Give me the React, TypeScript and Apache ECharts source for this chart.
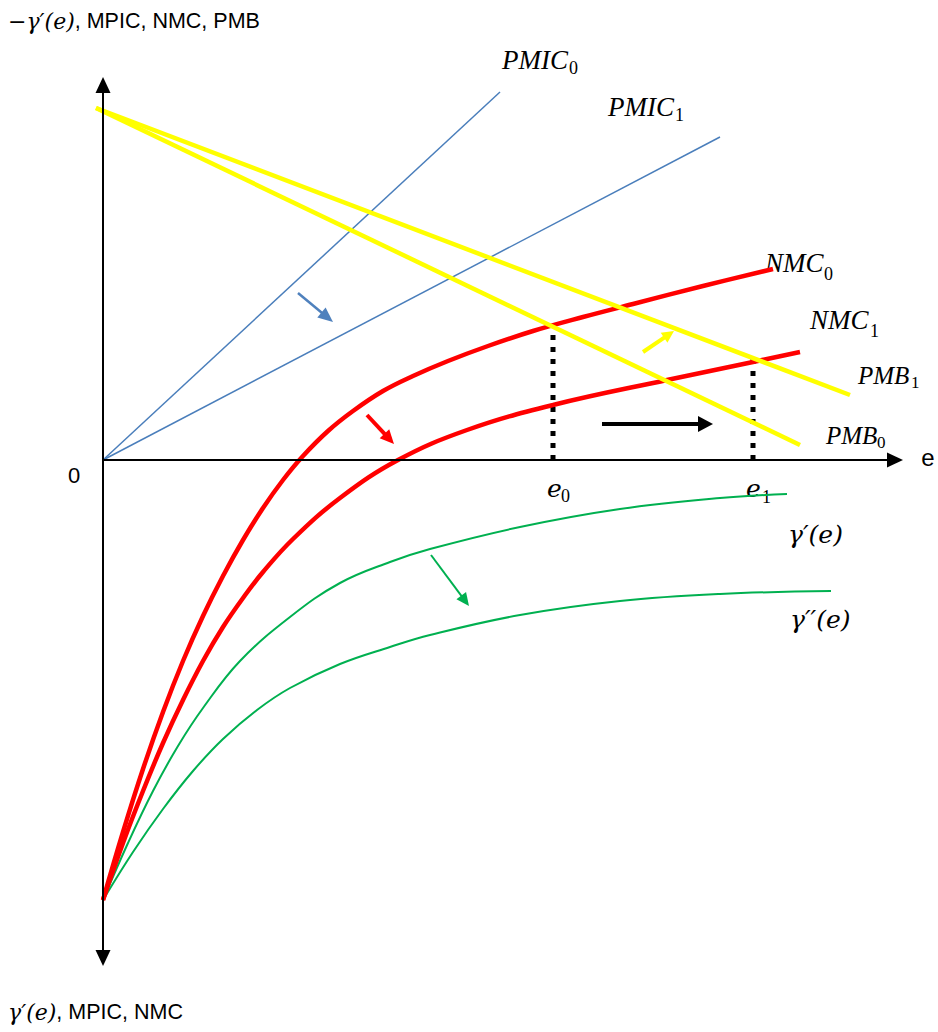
import { useEffect, useRef } from "react";
import * as echarts from "echarts";

// Curves as [e, value] pairs: e is measured to the right of the vertical axis,
// value above the horizontal axis (negative values lie below it).
const pmic0 = [[0, 0], [397, 368]];
const pmic1 = [[0, 0], [617, 323]];
const pmb0 = [[-7, 352], [697, 15]];
const pmb1 = [[-7, 352], [747, 65]];

const nmc0 = [
  [0, -440], [20, -372], [40, -309], [60, -252], [80, -201], [100, -156], [120, -116],
  [140, -80], [160, -48], [180, -20], [200, 4], [225, 29], [250, 49], [280, 69], [310, 84],
  [345, 99], [385, 114], [430, 129], [480, 143], [530, 156], [600, 174], [670, 191],
];
const nmc1 = [
  [0, -440], [20, -383], [40, -331], [60, -283], [80, -240], [100, -201], [120, -167],
  [140, -138], [160, -112], [190, -79], [237, -38], [295, 0], [364, 30], [450, 55],
  [564, 80], [650, 98], [697, 108],
];
const gammaPrime = [
  [0, -440], [25, -383], [50, -331], [75, -286], [100, -248], [137, -201], [187, -157],
  [237, -123], [287, -102], [327, -89], [417, -67], [517, -49], [617, -38], [684, -34],
];
const gammaDoublePrime = [
  [0, -440], [30, -392], [60, -349], [90, -311], [120, -279], [154, -250], [187, -228],
  [237, -204], [287, -187], [327, -175], [417, -155], [517, -141], [617, -134], [728, -131],
];

// Equilibrium effort levels and the heights where the curves cross above them
const equilibria = [
  { e: 450, top: 133 },
  { e: 650, top: 101 },
];

// Shift arrows: [tail, tip]
const shiftArrows = [
  { name: "pmic", from: [195, 167], to: [230, 138] },
  { name: "nmc", from: [264, 45], to: [291, 16] },
  { name: "pmb", from: [540, 108], to: [571, 129] },
  { name: "e", from: [499, 36], to: [610, 36] },
  { name: "gamma", from: [328, -95], to: [366, -146] },
];

const BLUE = "#4a7ebb";
const RED = "#ff0000";
const YELLOW = "#ffff00";
const GREEN = "#00b050";
const BLACK = "#000000";

const CAPS = '"Liberation Serif", "DejaVu Serif", serif';
const LOWER = '"DejaVu Serif", "Liberation Serif", serif';
const SANS = '"Liberation Sans", Arial, sans-serif';

const arrowStyle: Record<string, { color: string; width: number; head: [number, number] }> = {
  pmic: { color: "#4f81bd", width: 2.5, head: [13, 15] },
  nmc: { color: RED, width: 4, head: [13, 14] },
  pmb: { color: YELLOW, width: 4, head: [12, 12] },
  e: { color: BLACK, width: 4, head: [16, 15] },
  gamma: { color: GREEN, width: 2, head: [12, 13] },
};

// The triangle symbol is centred on the line end, so pull the end back by half the head length.
function arrowSegment(from: number[], to: number[], headLen: number) {
  const dx = to[0] - from[0];
  const dy = to[1] - from[1];
  const len = Math.hypot(dx, dy);
  const end = [to[0] - (dx / len) * headLen / 2, to[1] - (dy / len) * headLen / 2];
  return [{ coord: from }, { coord: end }];
}

function curve(name: string, data: number[][], color: string, width: number, smooth: boolean | number = false) {
  return {
    name,
    type: "line",
    data,
    smooth,
    showSymbol: false,
    symbol: "none",
    silent: true,
    lineStyle: { color, width, cap: "butt", join: "round" },
    z: 3,
  };
}

function arrowSeries(name: string, segments: any[], color: string, width: number, head: [number, number], symbol: string[]) {
  return {
    name,
    type: "line",
    data: [],
    silent: true,
    z: 5,
    markLine: {
      silent: true,
      symbol,
      symbolSize: head,
      label: { show: false },
      emphasis: { disabled: true },
      lineStyle: { color, width, type: "solid", cap: "butt" },
      data: segments,
    },
  };
}

function mathText(text: string, x: number, y: number, size: number, family = CAPS, italic = true) {
  return {
    type: "text",
    x,
    y,
    silent: true,
    style: {
      text,
      font: `${italic ? "italic " : ""}${size}px ${family}`,
      fill: "#000",
      verticalAlign: "middle",
    },
  };
}

function subText(text: string, x: number, y: number, size: number) {
  return mathText(text, x, y, size, CAPS, false);
}

function plainText(text: string, x: number, y: number, size: number, align = "center") {
  return {
    type: "text",
    x,
    y,
    silent: true,
    style: { text, font: `${size}px ${SANS}`, fill: "#000", align, verticalAlign: "middle" },
  };
}

function axisTitle(math: string, rest: string, y: number) {
  return {
    type: "text",
    x: 8,
    y,
    silent: true,
    style: {
      text: `{a|${math}}{b|${rest}}`,
      verticalAlign: "middle",
      rich: {
        a: { font: `italic 22px ${LOWER}`, fill: "#000" },
        b: { font: `21.5px ${SANS}`, fill: "#000" },
      },
    },
  };
}

export default function App() {
  const ref = useRef<HTMLDivElement>(null);

  useEffect(() => {
    if (!ref.current) return;
    const chart = echarts.init(ref.current, null, { renderer: "svg" });

    const arrowItems = shiftArrows.map((a) => {
      const s = arrowStyle[a.name];
      return arrowSeries(`${a.name}-shift`, [arrowSegment(a.from, a.to, s.head[1])], s.color, s.width, s.head, ["none", "triangle"]);
    });

    const axisHead: [number, number] = [15, 16];
    const vAxis = [
      { coord: [0, -506 + axisHead[1] / 2] },
      { coord: [0, 383 - axisHead[1] / 2] },
    ];
    const hAxis = [{ coord: [0, 0] }, { coord: [800 - axisHead[1] / 2, 0] }];

    const dropLines = equilibria.map((q, i) => ({
      name: `drop${i}`,
      type: "line",
      data: [[q.e, 0], [q.e, q.top]],
      showSymbol: false,
      symbol: "none",
      silent: true,
      lineStyle: { color: BLACK, width: 5, type: [5, 7], cap: "butt" },
      z: 2,
    }));

    const option: any = {
      animation: false,
      backgroundColor: "#ffffff",
      grid: { left: 0, right: 0, top: 0, bottom: 0, containLabel: false },
      xAxis: { type: "value", min: -103, max: 835, show: false },
      yAxis: { type: "value", min: -572, max: 460, show: false },
      series: [
        arrowSeries("v-axis", [vAxis], BLACK, 2, axisHead, ["triangle", "triangle"]),
        arrowSeries("h-axis", [hAxis], BLACK, 2, axisHead, ["none", "triangle"]),
        ...dropLines,
        curve("PMIC0", pmic0, BLUE, 1.5),
        curve("PMIC1", pmic1, BLUE, 1.5),
        curve("γ'(e)", gammaPrime, GREEN, 2, 0.4),
        curve("γ''(e)", gammaDoublePrime, GREEN, 2, 0.4),
        curve("NMC0", nmc0, RED, 4.5, 0.4),
        curve("NMC1", nmc1, RED, 4.5, 0.4),
        curve("PMB0", pmb0, YELLOW, 4.5),
        curve("PMB1", pmb1, YELLOW, 4.5),
        ...arrowItems,
      ],
      graphic: [
        axisTitle("−γ′(e)", ", MPIC, NMC, PMB", 21),
        axisTitle("γ′(e)", ", MPIC, NMC", 1012),
        plainText("0", 74, 475, 22),
        plainText("e", 928, 457, 24),
        mathText("PMIC", 502, 60, 27),
        subText("0", 569, 68, 18),
        mathText("PMIC", 608, 107, 27),
        subText("1", 675, 115, 18),
        mathText("NMC", 765, 263, 27),
        subText("0", 824, 274, 18),
        mathText("NMC", 810, 320, 27),
        subText("1", 870, 331, 18),
        mathText("PMB", 858, 375, 25),
        subText("1", 911, 382, 17),
        mathText("PMB", 826, 435, 25),
        subText("0", 877, 442, 17),
        mathText("e", 547, 488, 25, LOWER),
        subText("0", 561, 496, 18),
        mathText("e", 746, 488, 25, LOWER),
        subText("1", 762, 497, 18),
        mathText("γ′(e)", 788, 534, 25, LOWER),
        mathText("γ′′(e)", 790, 619, 25, LOWER),
      ],
    };

    chart.setOption(option);
    return () => chart.dispose();
  }, []);

  return (
    <div
      ref={ref}
      style={{ position: "absolute", left: 0, top: 0, width: 938, height: 1032, background: "#fff" }}
    />
  );
}
